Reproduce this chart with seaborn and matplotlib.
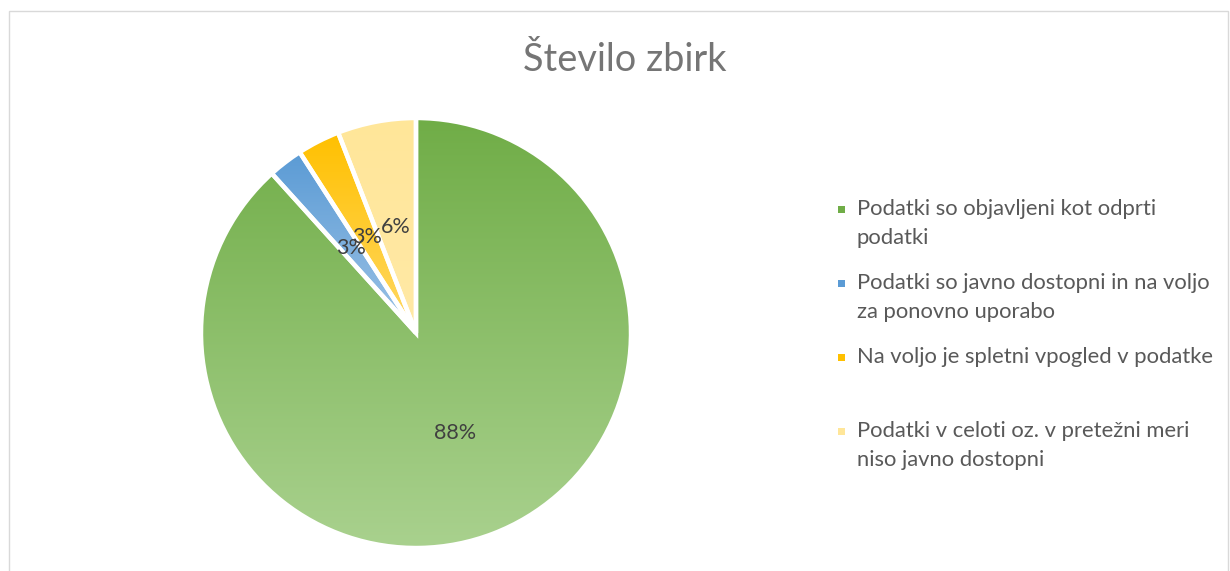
import numpy as np
import matplotlib
matplotlib.use("Agg")
import matplotlib.pyplot as plt
import seaborn as sns
from matplotlib.colors import LinearSegmentedColormap
from matplotlib.patches import Rectangle

sns.set_theme(style="white")
plt.rcParams['font.family'] = ['Lato', 'DejaVu Sans']

title = "Število zbirk"
categories = [
    "Podatki so objavljeni kot odprti\npodatki",
    "Podatki so javno dostopni in na voljo\nza ponovno uporabo",
    "Na voljo je spletni vpogled v podatke",
    "Podatki v celoti oz. v pretežni meri\nniso javno dostopni",
]
values = [88.3, 2.6, 3.2, 5.9]
top_colors = ["#70AD47", "#5B9BD5", "#FFC000", "#FFE699"]
bottom_colors = ["#A9D18E", "#9DC3E6", "#FFD966", "#FFE9A6"]

W, H = 1230, 571
fig = plt.figure(figsize=(W / 100, H / 100), dpi=100)
fig.patch.set_facecolor("white")

# outer frame
fig.add_artist(Rectangle((9 / W, -0.05), (1228 - 9) / W, (H - 11) / H + 0.05,
                         transform=fig.transFigure, fill=False,
                         edgecolor="#D9D9D9", linewidth=1.0))

cx, cy, r = 416, 333, 215
ax = fig.add_axes([(cx - r) / W, (H - cy - r) / H, 2 * r / W, 2 * r / H])

wedges, texts, autotexts = ax.pie(
    values, startangle=90, counterclock=False, colors=top_colors,
    autopct="%.0f%%", pctdistance=0.5,
    wedgeprops=dict(edgecolor="white", linewidth=3.2),
    textprops=dict(color="#404040", fontsize=15.5),
)

grad = np.linspace(0, 1, 256).reshape(-1, 1)
for w, c0, c1 in zip(wedges, top_colors, bottom_colors):
    bb = w.get_path().get_extents()
    cmap = LinearSegmentedColormap.from_list("g", [c0, c1])
    im = ax.imshow(grad, cmap=cmap, aspect="auto",
                   extent=[bb.x0, bb.x1, bb.y0, bb.y1], origin="upper",
                   zorder=1, interpolation="bilinear")
    im.set_clip_path(w)
    w.set_facecolor("none")
    w.set_zorder(3)
for t in autotexts:
    t.set_zorder(5)

ax.set_xlim(-1.0, 1.0)
ax.set_ylim(-1.0, 1.0)
ax.set_aspect("equal")
ax.axis("off")

fig.text(625 / W, 1 - 60 / H, title, ha="center", va="center",
         fontsize=27.3, color="#757575")

# legend
x_mark, x_text = 841, 857
y0, step, line_h = 215, 74, 29
for i, (lab, col) in enumerate(zip(categories, top_colors)):
    y = y0 + i * step
    fig.add_artist(Rectangle(((x_mark - 3) / W, 1 - (y - 2) / H), 7 / W, 7 / H,
                             transform=fig.transFigure, facecolor=col,
                             edgecolor="none"))
    for j, line in enumerate(lab.split("\n")):
        fig.text(x_text / W, 1 - (y + j * line_h) / H, line, ha="left",
                 va="baseline", fontsize=15.8, color="#595959")

fig.savefig("out.png", dpi=100, facecolor="white")
